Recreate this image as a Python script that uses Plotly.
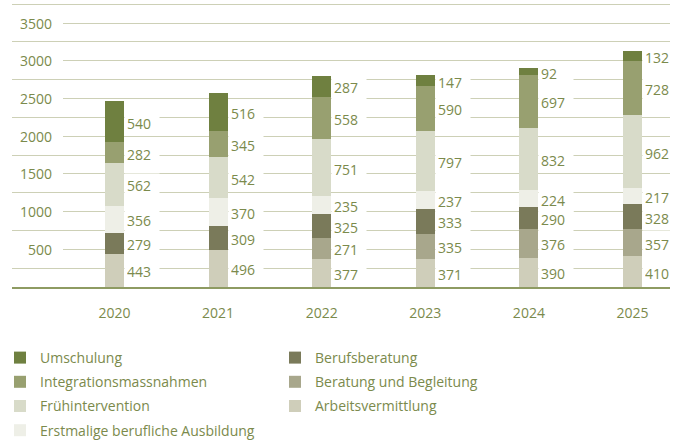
import plotly.graph_objects as go

years = ["2020", "2021", "2022", "2023", "2024", "2025"]

# stack order bottom -> top
arbeitsvermittlung = [443, 496, 377, 371, 390, 410]
beratung_begleitung = [None, None, 271, 335, 376, 357]
berufsberatung = [279, 309, 325, 333, 290, 328]
erstmalige = [356, 370, 235, 237, 224, 217]
fruehintervention = [562, 542, 751, 797, 832, 962]
integration = [282, 345, 558, 590, 697, 728]
umschulung = [540, 516, 287, 147, 92, 132]

series = [
    ("Arbeitsvermittlung", arbeitsvermittlung, "#cfceba", "legend2", 3),
    ("Beratung und Begleitung", beratung_begleitung, "#a8a78c", "legend2", 2),
    ("Berufsberatung", berufsberatung, "#7a7a5a", "legend2", 1),
    ("Erstmalige berufliche Ausbildung", erstmalige, "#eeefe7", "legend", 4),
    ("Frühintervention", fruehintervention, "#d8dbc9", "legend", 3),
    ("Integrationsmassnahmen", integration, "#98a070", "legend", 2),
    ("Umschulung", umschulung, "#6f8040", "legend", 1),
]

y_ticks = [500, 1000, 1500, 2000, 2500, 3000, 3500]

TEXT = "#7b8a4c"
FONT = "Open Sans"
W, H = 686, 441
L, R, T, B = 12, 16, 0, 154

fig = go.Figure()
for name, vals, color, leg, rank in series:
    fig.add_trace(go.Bar(
        x=years, y=[v if v is not None else 0 for v in vals], name=name,
        marker=dict(color=color, line=dict(width=0)),
        legend=leg, legendgroup=name, legendrank=rank,
        hoverinfo="skip",
    ))

annotations = []
# segment labels
for i, yr in enumerate(years):
    base = 0
    for name, vals, color, leg, rank in series:
        v = vals[i]
        if v is None:
            continue
        annotations.append(dict(
            x=i, y=base + v / 2, xref="x", yref="y", text=str(v),
            showarrow=False, xanchor="left", yanchor="middle", xshift=9.5, yshift=-1.5,
            align="left", width=30, borderpad=2, bgcolor="white",
            font=dict(family=FONT, size=14, color=TEXT),
        ))
        base += v

plot_w = W - L - R
shapes = []
for t in y_ticks:
    annotations.append(dict(
        x=(51 - L) / plot_w, y=t, xref="paper", yref="y", text=str(t),
        showarrow=False, xanchor="right", yanchor="middle", xshift=3,
        font=dict(family=FONT, size=14, color=TEXT),
    ))
    shapes.append(dict(
        type="rect", xref="paper", yref="y", x0=0, x1=(63 - L) / plot_w,
        y0=t - 60, y1=t + 60, fillcolor="white", line=dict(width=0), layer="above",
    ))

fig.update_layout(
    width=W, height=H,
    margin=dict(l=L, r=R, t=T, b=B, autoexpand=False),
    paper_bgcolor="white", plot_bgcolor="white",
    barmode="stack", bargap=0.816,
    font=dict(family=FONT, size=14, color=TEXT),
    xaxis=dict(
        type="category",
        range=[-0.989, 5.362], showgrid=False, zeroline=False,
        showline=True, linecolor="#8e9b62", linewidth=1.5,
        ticks="outside", ticklen=12, tickcolor="rgba(0,0,0,0)",
        tickfont=dict(family=FONT, size=14, color=TEXT), tickangle=0,
    ),
    yaxis=dict(
        range=[0, 3805], dtick=250, tick0=0, showgrid=True,
        gridcolor="#cdd0b6", gridwidth=1.2, zeroline=False,
        showticklabels=False, ticks="",
    ),
    legend=dict(
        orientation="v", xref="container", yref="container",
        x=0, y=1 - 342 / H, xanchor="left", yanchor="top",
        traceorder="grouped", tracegroupgap=3,
        font=dict(family=FONT, size=14, color=TEXT), bgcolor="rgba(0,0,0,0)",
    ),
    legend2=dict(
        orientation="v", xref="container", yref="container",
        x=275 / W, y=1 - 342 / H, xanchor="left", yanchor="top",
        traceorder="grouped", tracegroupgap=3,
        font=dict(family=FONT, size=14, color=TEXT), bgcolor="rgba(0,0,0,0)",
    ),
    annotations=annotations,
    shapes=shapes,
)

fig.write_html(
    "out.html",
    config={"displayModeBar": False},
    post_script="document.body.style.margin='0';",
)
